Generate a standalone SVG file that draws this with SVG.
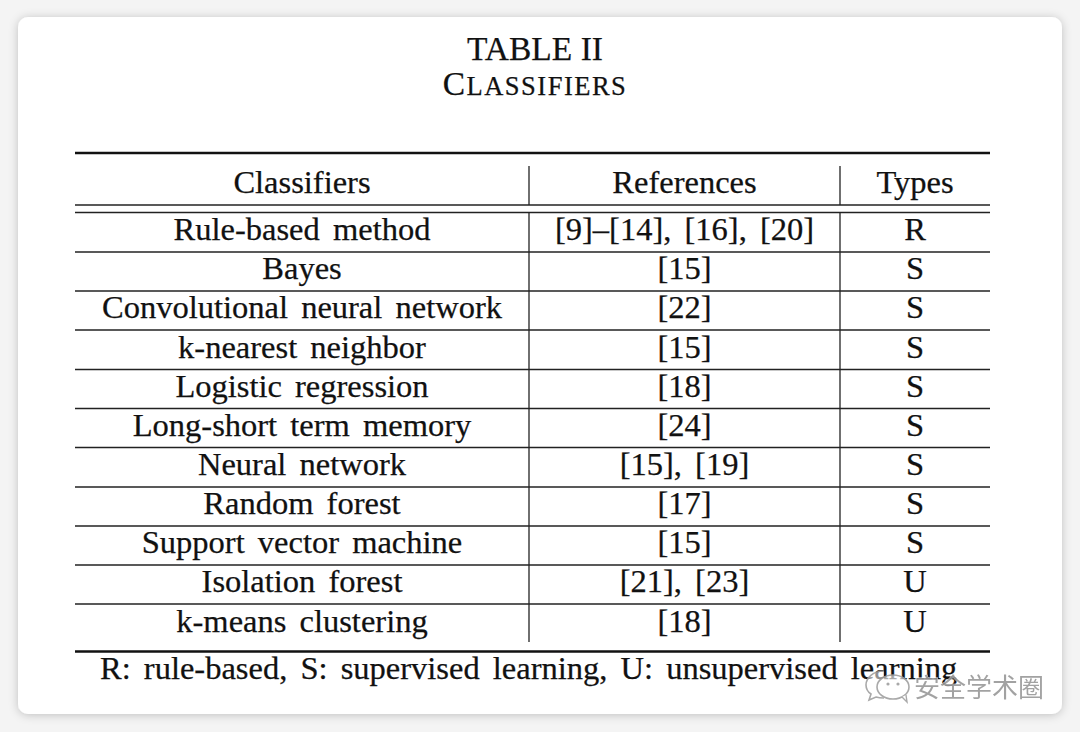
<svg xmlns="http://www.w3.org/2000/svg" width="1080" height="732" viewBox="0 0 1080 732">
<defs>
<filter id="sh" x="-5%" y="-5%" width="110%" height="110%">
<feDropShadow dx="0" dy="1" stdDeviation="5" flood-color="#000" flood-opacity="0.22"/>
</filter>
<style>
.t{font-family:"Liberation Serif","Times New Roman",serif;font-size:32.5px;fill:#111;stroke:#111;stroke-width:0.25;text-anchor:middle;word-spacing:5px}
.ti{font-size:33.5px;word-spacing:0}
.thick{stroke:#111;stroke-width:2.3}
.thin{stroke:#222;stroke-width:1.3}
.wm{font-family:"Noto Sans CJK SC",sans-serif;font-size:26px;fill:#999;stroke:#fff;stroke-width:0.8;paint-order:stroke}
</style>
</defs>
<rect width="1080" height="732" fill="#f4f4f4"/>
<rect x="18" y="17" width="1044" height="697" rx="10" fill="#fff" filter="url(#sh)"/>
<g id="title">
<text class="t ti" x="535" y="59.5">TABLE II</text>
<text class="t ti" x="535" y="95" letter-spacing="1.5">C<tspan font-size="26.5">LASSIFIERS</tspan></text>
</g>
<g id="rules">
<line class="thick" x1="75" y1="153" x2="990" y2="153"/>
<line class="thin" x1="75" y1="205" x2="990" y2="205"/>
<line class="thin" x1="75" y1="212.5" x2="990" y2="212.5"/>
<line class="thin" x1="75" y1="252" x2="990" y2="252"/>
<line class="thin" x1="75" y1="291" x2="990" y2="291"/>
<line class="thin" x1="75" y1="330" x2="990" y2="330"/>
<line class="thin" x1="75" y1="369.5" x2="990" y2="369.5"/>
<line class="thin" x1="75" y1="408.5" x2="990" y2="408.5"/>
<line class="thin" x1="75" y1="447.5" x2="990" y2="447.5"/>
<line class="thin" x1="75" y1="487" x2="990" y2="487"/>
<line class="thin" x1="75" y1="526" x2="990" y2="526"/>
<line class="thin" x1="75" y1="565" x2="990" y2="565"/>
<line class="thin" x1="75" y1="604" x2="990" y2="604"/>
<line class="thick" x1="75" y1="651.5" x2="990" y2="651.5"/>
<line class="thin" x1="529" y1="166" x2="529" y2="205"/>
<line class="thin" x1="840" y1="166" x2="840" y2="205"/>
<line class="thin" x1="529" y1="212.5" x2="529" y2="642"/>
<line class="thin" x1="840" y1="212.5" x2="840" y2="642"/>
</g>
<g id="header">
<text class="t" x="302" y="193">Classifiers</text>
<text class="t" x="684.5" y="193">References</text>
<text class="t" x="915" y="193">Types</text>
</g>
<g id="row1"><text class="t" x="302" y="240">Rule-based method</text><text class="t" x="684.5" y="240">[9]–[14], [16], [20]</text><text class="t" x="915" y="240">R</text></g>
<g id="row2"><text class="t" x="302" y="279">Bayes</text><text class="t" x="684.5" y="279">[15]</text><text class="t" x="915" y="279">S</text></g>
<g id="row3"><text class="t" x="302" y="318">Convolutional neural network</text><text class="t" x="684.5" y="318">[22]</text><text class="t" x="915" y="318">S</text></g>
<g id="row4"><text class="t" x="302" y="357.5">k-nearest neighbor</text><text class="t" x="684.5" y="357.5">[15]</text><text class="t" x="915" y="357.5">S</text></g>
<g id="row5"><text class="t" x="302" y="396.5">Logistic regression</text><text class="t" x="684.5" y="396.5">[18]</text><text class="t" x="915" y="396.5">S</text></g>
<g id="row6"><text class="t" x="302" y="435.5">Long-short term memory</text><text class="t" x="684.5" y="435.5">[24]</text><text class="t" x="915" y="435.5">S</text></g>
<g id="row7"><text class="t" x="302" y="474.5">Neural network</text><text class="t" x="684.5" y="474.5">[15], [19]</text><text class="t" x="915" y="474.5">S</text></g>
<g id="row8"><text class="t" x="302" y="514">Random forest</text><text class="t" x="684.5" y="514">[17]</text><text class="t" x="915" y="514">S</text></g>
<g id="row9"><text class="t" x="302" y="553">Support vector machine</text><text class="t" x="684.5" y="553">[15]</text><text class="t" x="915" y="553">S</text></g>
<g id="row10"><text class="t" x="302" y="592">Isolation forest</text><text class="t" x="684.5" y="592">[21], [23]</text><text class="t" x="915" y="592">U</text></g>
<g id="row11"><text class="t" x="302" y="631.5">k-means clustering</text><text class="t" x="684.5" y="631.5">[18]</text><text class="t" x="915" y="631.5">U</text></g>
<g id="footnote">
<text class="t" x="100" y="678.5" style="text-anchor:start">R: rule-based, S: supervised learning, U: unsupervised learning</text>
</g>
<g id="watermark" opacity="0.9">
<path d="M884 671 C873 671 866 678 866 685 C866 689 868 692 871 694 L869 700 L876 697 C879 698 882 698 884 698" fill="#fff" fill-opacity="0.6" stroke="#a0a0a0" stroke-width="1.6"/>
<ellipse cx="893" cy="687" rx="16" ry="12" fill="#fff" fill-opacity="0.7" stroke="#a0a0a0" stroke-width="1.6"/>
<path d="M902 697 L907 702 L906 695" fill="#fff" stroke="#a0a0a0" stroke-width="1.4"/>
<circle cx="888" cy="684" r="1.6" fill="#a0a0a0"/>
<circle cx="898" cy="684" r="1.6" fill="#a0a0a0"/>
<text class="wm" x="914" y="697">安全学术圈</text>
</g>
</svg>
